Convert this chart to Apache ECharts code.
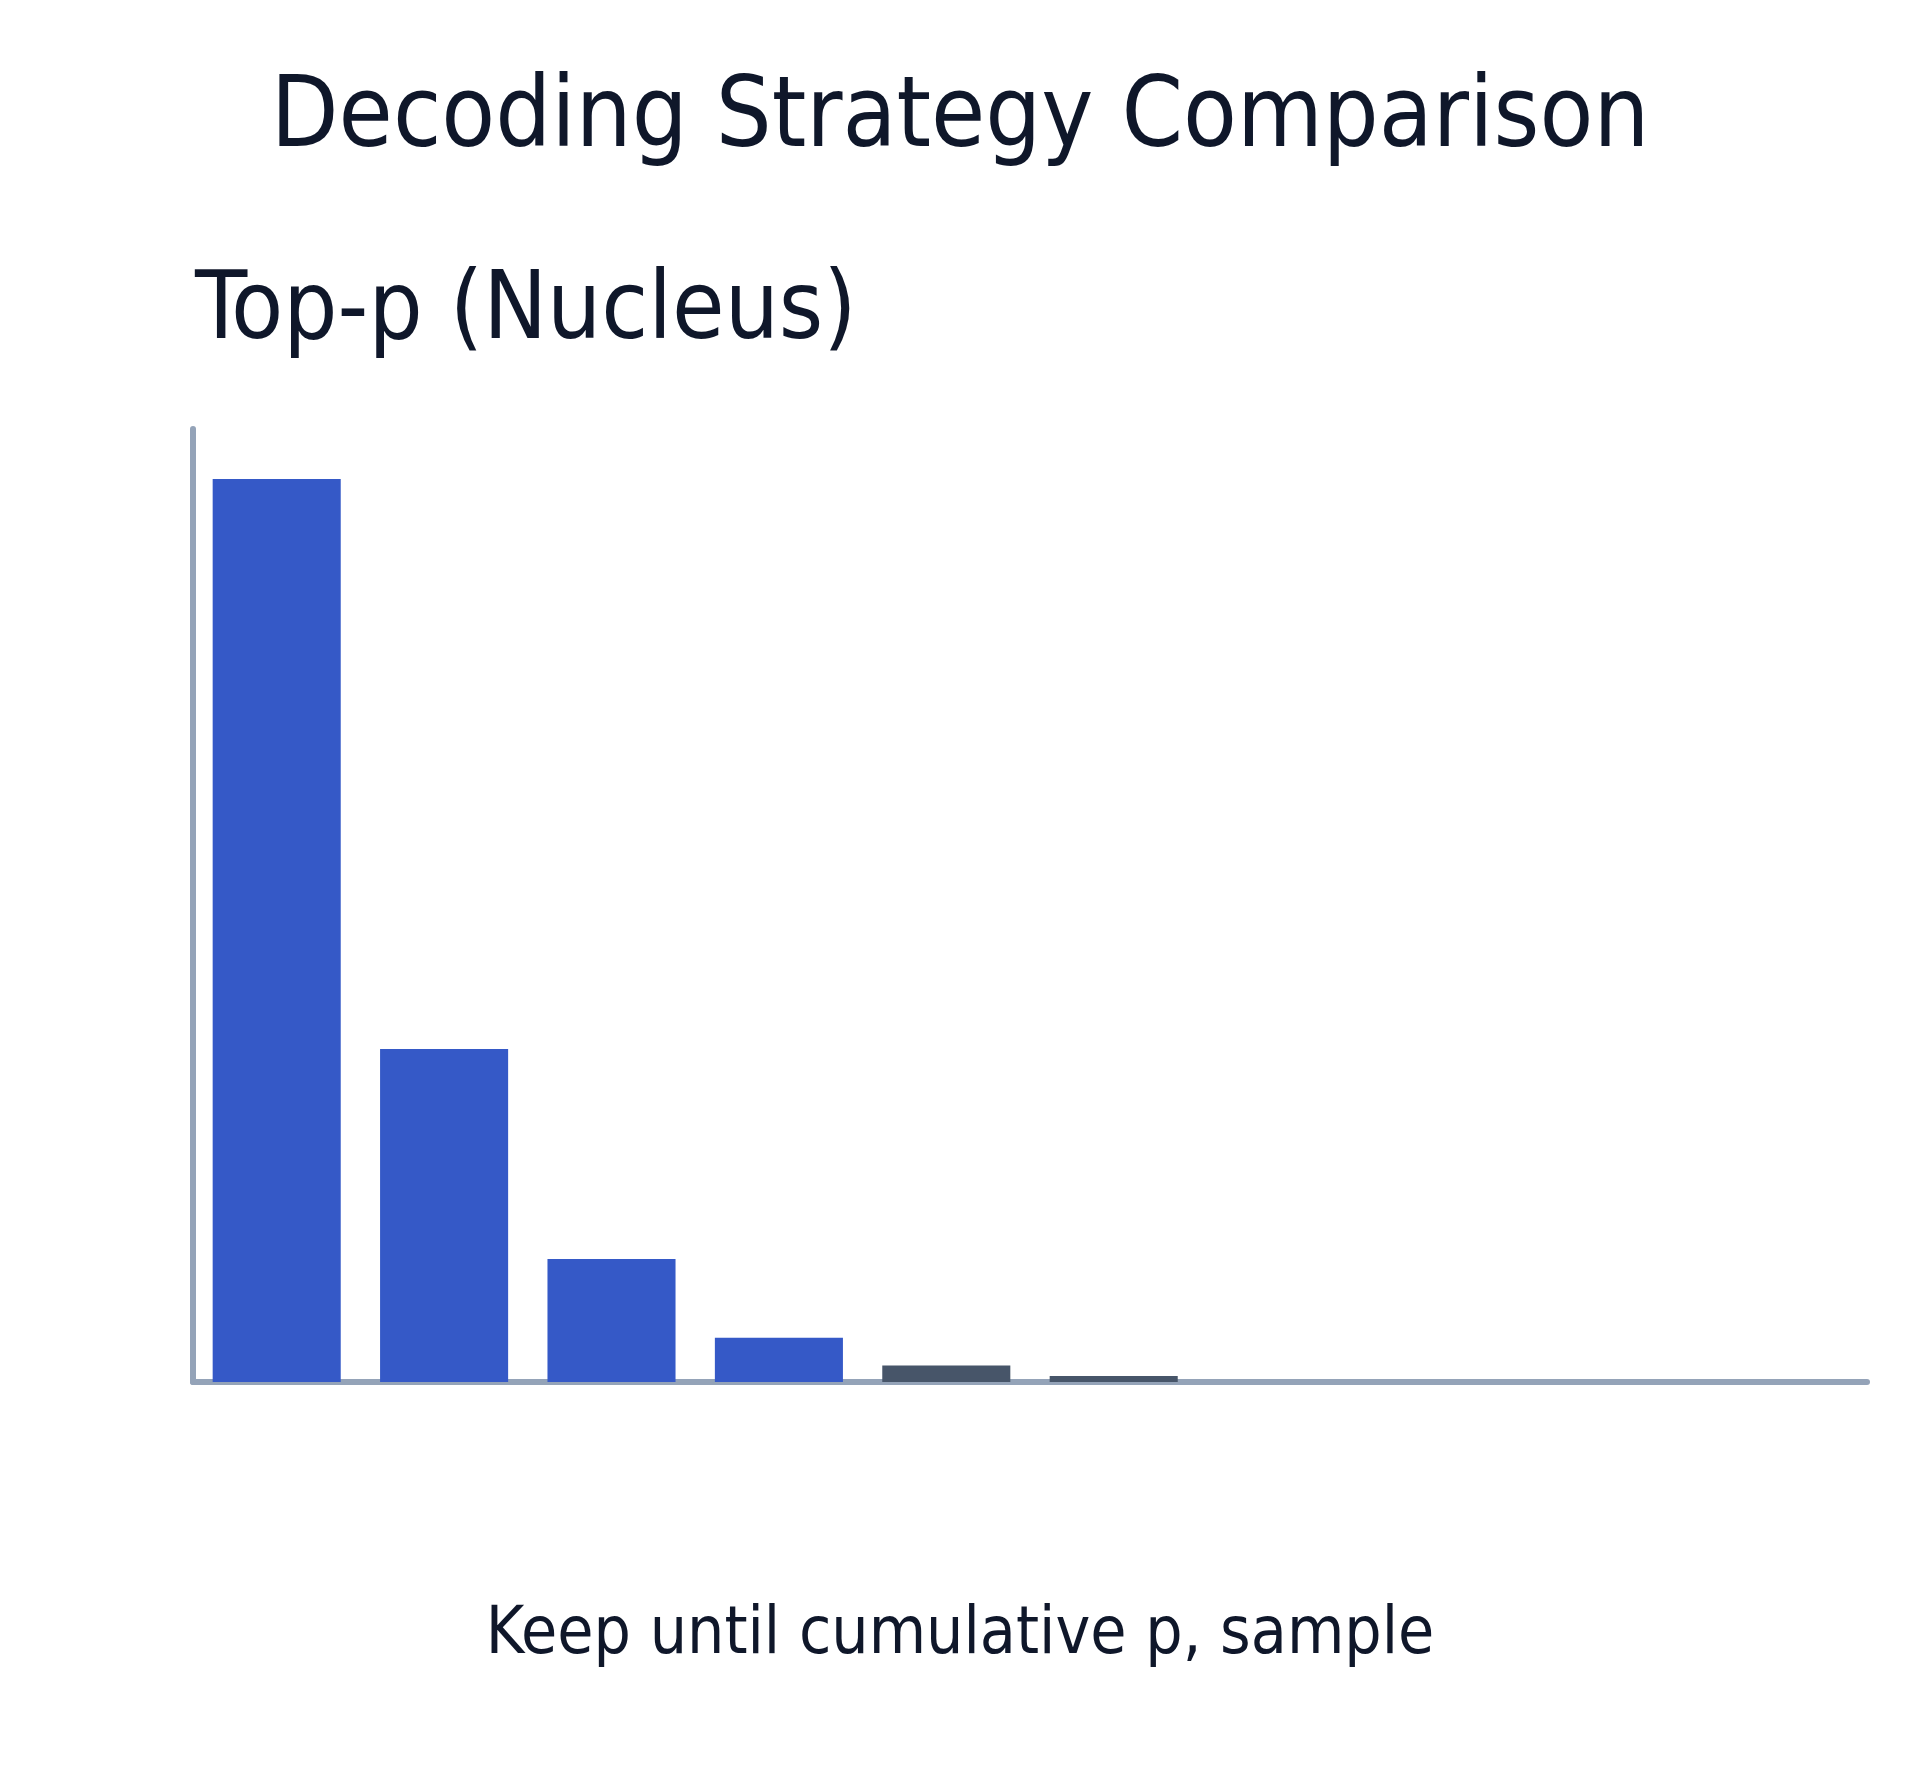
<!DOCTYPE html>
<html>
<head>
<meta charset="utf-8">
<script src="https://cdn.jsdelivr.net/npm/echarts@6/dist/echarts.min.js"></script>
<style>
html,body{margin:0;padding:0;background:#fff;}
#chart{width:1920px;height:1792px;}
</style>
</head>
<body>
<div id="chart"></div>
<script>
const tokens = ['t1','t2','t3','t4','t5','t6','t7','t8','t9','t10'];
const probs = [0.632, 0.233, 0.086, 0.031, 0.0115, 0.0042, 0, 0, 0, 0];
const kept = [true, true, true, true, false, false, false, false, false, false];
const mainTitle = 'Decoding Strategy Comparison';
const panelTitle = 'Top-p (Nucleus)';
const caption = 'Keep until cumulative p, sample';

const FONT = '"DejaVu Sans Condensed", "DejaVu Sans", sans-serif';
const chart = echarts.init(document.getElementById('chart'));
chart.setOption({
  backgroundColor: '#ffffff',
  animation: false,
  title: [
    { text: mainTitle, left: 'center', top: 67,
      textStyle: { fontFamily: FONT, fontSize: 98, fontWeight: 'normal', color: '#0f172a' } },
    { text: panelTitle, left: 190, top: 261,
      textStyle: { fontFamily: FONT, fontSize: 95, fontWeight: 'normal', color: '#0f172a' } },
    { text: caption, left: 'center', top: 1598,
      textStyle: { fontFamily: FONT, fontSize: 65.5, fontWeight: 'normal', color: '#0f172a' } }
  ],
  grid: { left: 193, right: 53, top: 429, bottom: 410, containLabel: false },
  xAxis: {
    type: 'category', data: tokens,
    axisLine: { show: true, lineStyle: { color: '#94a3b8', width: 6 } },
    axisTick: { show: false }, axisLabel: { show: false }, splitLine: { show: false }
  },
  yAxis: {
    type: 'value', min: 0, max: 0.667,
    axisLine: { show: true, lineStyle: { color: '#94a3b8', width: 6 } },
    axisTick: { show: false }, axisLabel: { show: false }, splitLine: { show: false }
  },
  series: [{
    type: 'bar',
    barCategoryGap: '23.5%',
    data: probs.map((v, i) => ({ value: v, itemStyle: { color: kept[i] ? '#3559c7' : '#475569' } }))
  }]
});
</script>
</body>
</html>
